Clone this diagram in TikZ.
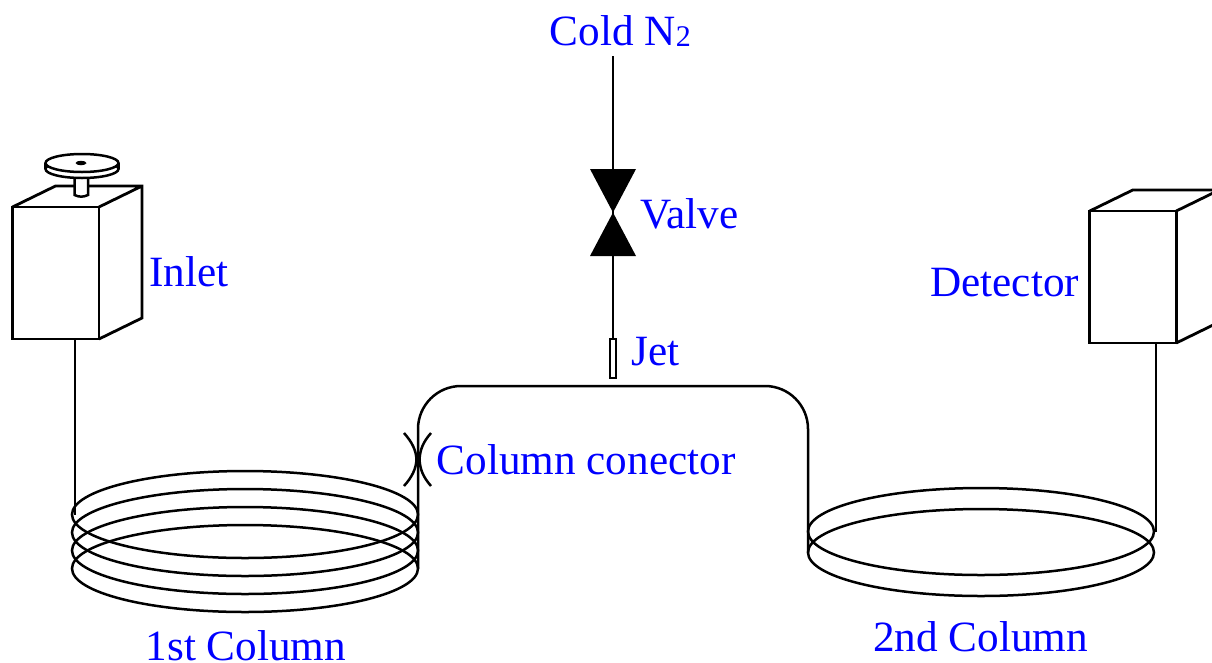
\documentclass[tikz,border=0pt]{standalone}
\usepackage{fontspec}
\setmainfont{Liberation Serif}
\usetikzlibrary{positioning,shapes.geometric}

\begin{document}
\begin{tikzpicture}[x=1pt,y=-1pt,line width=2.5pt,
  lbl/.style={text=blue,inner sep=0pt,anchor=base west,font=\fontsize{43.2}{50}\selectfont},
  unitbox/.style={rectangle,draw,line width=2.8pt,inner sep=0pt,outer sep=0pt,minimum width=86.5pt,minimum height=132pt},
  coil/.style={ellipse,draw,inner sep=0pt,outer sep=0pt,minimum width=346pt,minimum height=87pt},
  disc/.style={ellipse,draw,fill=white,inner sep=0pt,outer sep=0pt,minimum width=73pt,minimum height=18pt}]
  \clip (0,0) rectangle (1212,662);
  % boxes
  \node[unitbox] (inletbox) at (55.75,273) {};
  \node[unitbox] (detbox) at (1133,277) {};
  \foreach \b in {inletbox,detbox}
    \draw[line width=2.8pt] (\b.north west) -- ++(43,-21) -- ++(86.5,0) -- ++(0,132) -- (\b.south east)
      (\b.north east) -- ++(43,-21);
  % knob on the inlet
  \draw[fill=white] (74.5,178) -- (74.5,195) to[bend right=25] (88,195) -- (88,178);
  \node[disc] (disclow) at (82,169) {};
  \node[disc] (disctop) at (82,163) {};
  \draw (disclow.west) -- (disctop.west) (disclow.east) -- (disctop.east);
  \node[ellipse,fill=black,inner sep=0pt,minimum width=11pt,minimum height=4.5pt] (hole) at (81,163) {};
  % first column
  \node[coil] (a1) at (245,514.5) {};
  \node[coil] (a2) at (245,532.5) {};
  \node[coil] (a3) at (245,550.5) {};
  \node[coil] (a4) at (245,568.5) {};
  % second column
  \node[coil] (b1) at (981,531.5) {};
  \node[coil] (b2) at (981,552.5) {};
  % cold line and valve
  \coordinate (cold) at (613,56);
  \node[rectangle,draw,line width=1.8pt,fill=white,inner sep=0pt,minimum width=5.5pt,minimum height=39pt] (jet) at (613,358.5) {};
  \draw (cold) -- (jet.north);
  \fill (590,169) -- (636,169) -- (590,256) -- (636,256) -- cycle;
  % connections
  \coordinate (top) at (613,386);
  \coordinate (inletout) at (75,339);
  \coordinate (detin) at (1156,343);
  \draw (inletout) -- (inletout |- a1.west);
  \draw[rounded corners=43pt] (a4.east) |- (top) -| (b2.west);
  \draw (detin) -- (detin |- b1.east);
  % column connector
  \draw (404,433) .. controls (412,442) and (416,450) .. (416.5,459.5) .. controls (416,469) and (412,477) .. (404,486);
  \draw (431,433) .. controls (423,442) and (420,450) .. (419.5,459.5) .. controls (420,469) and (423,477) .. (431,486);
  % labels
  \node[lbl] (coldlbl) at (548.5,45) {Cold N\raisebox{-1pt}{\fontsize{30}{30}\selectfont 2}};
  \node[lbl] (valvelbl) at (639,228) {Valve};
  \node[lbl] (jetlbl) at (630,365) {Jet};
  \node[lbl] (inletlbl) at (148,286) {Inlet};
  \node[lbl] (detlbl) at (929,296) {Detector};
  \node[lbl] (cclbl) at (435.5,474) {Column conector};
  \node[lbl] (firstlbl) at (144.5,660) {1st Column};
  \node[lbl] (secondlbl) at (872,651) {2nd Column};
\end{tikzpicture}
\end{document}
